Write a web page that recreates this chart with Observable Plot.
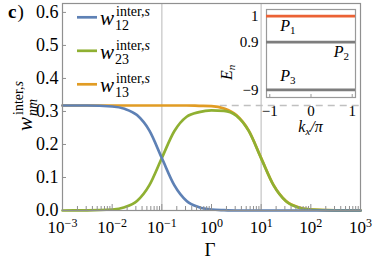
<!DOCTYPE html>
<html>
<head>
<meta charset="utf-8">
<script src="https://cdn.jsdelivr.net/npm/d3@7"></script>
<script src="https://cdn.jsdelivr.net/npm/@observablehq/plot@0.6"></script>
<style>
  html, body { margin: 0; padding: 0; background: white; }
  #wrap { position: relative; width: 374px; height: 274px; overflow: hidden; }
  #wrap svg { position: absolute; font-family: "Liberation Serif", "DejaVu Serif", serif !important; }
  #wrap svg text, #wrap svg tspan { font-family: "Liberation Serif", "DejaVu Serif", serif !important; }
</style>
</head>
<body>
<div id="wrap"></div>
<script>
// ---- data ----
const gamma = [0.001, 0.00316, 0.01, 0.0178, 0.0316, 0.0562, 0.1, 0.178, 0.316, 0.562, 1, 1.78, 3.16, 5.62, 10, 17.8, 31.6, 56.2, 100, 316, 1000];
const w12 = [0.318, 0.318, 0.315, 0.308, 0.289, 0.242, 0.159, 0.077, 0.029, 0.010, 0.003, 0.001, 0, 0, 0, 0, 0, 0, 0, 0, 0];
const w23 = [0, 0.0003, 0.003, 0.010, 0.029, 0.077, 0.159, 0.240, 0.284, 0.298, 0.303, 0.302, 0.287, 0.241, 0.158, 0.076, 0.028, 0.009, 0.003, 0.0003, 0];
const w13 = [0.318, 0.318, 0.318, 0.318, 0.318, 0.318, 0.318, 0.318, 0.318, 0.317, 0.316, 0.309, 0.289, 0.242, 0.159, 0.077, 0.029, 0.010, 0.003, 0.0003, 0];
const seriesNames = ["12", "23", "13"];
const seriesColors = ["#5E81B5", "#8FB032", "#E19C24"];
const xTicks = [0.001, 0.01, 0.1, 1, 10, 100, 1000];
const xTickExp = ["−3", "−2", "−1", "0", "1", "2", "3"];
const yTicks = [0, 0.1, 0.2, 0.3, 0.4, 0.5, 0.6];
const gridX = [0.1, 10];
const dashLevel = [0.318];
const dashStart = 1.5;

// inset
const levels = [1, 0.9, -9];
const levelLabels = ["1", "2", "3"];
const levelColors = ["#EB6235", "#7d7d7d", "#7d7d7d"];
const kTicks = [-1, 0, 1];

const FONT = "'Liberation Serif', 'DejaVu Serif', serif";

// ---- main plot ----
const rows = (vals) => gamma.map((g, i) => ({g, v: vals[i]}));
const minorTicks = [];
for (let k = -3; k < 3; k++) for (let m = 2; m <= 9; m++) minorTicks.push(m * Math.pow(10, k));

const main = Plot.plot({
  width: 374, height: 274,
  marginLeft: 62, marginRight: 14, marginTop: 3, marginBottom: 64,
  x: {type: "log", domain: [1e-3, 1e3]},
  y: {domain: [0, 0.627]},
  style: {fontFamily: FONT, background: "transparent", color: "black", overflow: "visible"},
  marks: [
    Plot.ruleX(gridX, {stroke: "#d0d0d0", strokeWidth: 1.5}),
    Plot.ruleY(dashLevel, {x1: dashStart, x2: 1e3, stroke: "#c0c0c0", strokeWidth: 1.5, strokeDasharray: "7,5"}),
    Plot.line(rows(w13), {x: "g", y: "v", stroke: seriesColors[2], strokeWidth: 2.7, curve: "monotone-x"}),
    Plot.line(rows(w23), {x: "g", y: "v", stroke: seriesColors[1], strokeWidth: 2.7, curve: "monotone-x"}),
    Plot.line(rows(w12), {x: "g", y: "v", stroke: seriesColors[0], strokeWidth: 2.7, curve: "monotone-x"}),
    Plot.ruleX(minorTicks, {insetTop: 203, stroke: "#909090", strokeWidth: 1}),
    Plot.ruleX(xTicks, {insetTop: 201, stroke: "#909090", strokeWidth: 1}),
    Plot.ruleY(yTicks, {insetRight: 294, stroke: "#909090", strokeWidth: 1}),
    Plot.frame({stroke: "#909090", strokeWidth: 1.2}),
    Plot.axisX({ticks: xTicks, tickSize: 0, tickPadding: 10, fontSize: 17, tickFormat: () => "10", label: null}),
    Plot.axisY({ticks: yTicks, tickSize: 0, tickPadding: 4, fontSize: 18, tickFormat: d3.format(".1f"), label: null})
  ]
});
main.style.left = "0px"; main.style.top = "0px";
main.setAttribute("font-family", FONT);
document.getElementById("wrap").appendChild(main);

const svg = d3.select(main);
// superscript exponents on x tick labels
svg.selectAll('g[aria-label="x-axis tick label"] text').each(function(d, i) {
  const t = d3.select(this);
  t.text("");
  t.append("tspan").text("10");
  t.append("tspan").attr("dy", "-0.5em").attr("font-size", 12).text(xTickExp[i]);
});

// legend
seriesNames.forEach((s, i) => {
  const y0 = 17.3 + i * 33.5;
  svg.append("line").attr("x1", 77).attr("x2", 97).attr("y1", y0).attr("y2", y0)
    .attr("stroke", seriesColors[i]).attr("stroke-width", 2.7);
  const base = y0 + 7.7;
  const t = svg.append("text").attr("font-family", FONT).attr("text-anchor", "start");
  t.append("tspan").attr("x", 100).attr("y", base).attr("font-size", 21).attr("font-style", "italic").text("w");
  const sp = t.append("tspan").attr("x", 116).attr("y", base - 9).attr("font-size", 14);
  sp.append("tspan").text("inter,");
  sp.append("tspan").attr("font-style", "italic").text("s");
  t.append("tspan").attr("x", 115).attr("y", base + 5).attr("font-size", 14).text(s);
});

// y label
{
  const g = svg.append("g").attr("transform", "translate(32,131) rotate(-90)");
  const t = g.append("text").attr("font-family", FONT).attr("text-anchor", "start");
  t.append("tspan").attr("x", 0).attr("y", 0).attr("font-size", 21).attr("font-style", "italic").text("w");
  const sp = t.append("tspan").attr("x", 16).attr("y", -9).attr("font-size", 14);
  sp.append("tspan").text("inter,");
  sp.append("tspan").attr("font-style", "italic").text("s");
  t.append("tspan").attr("x", 15).attr("y", 5).attr("font-size", 14).attr("font-style", "italic").text("nm");
}
// x label
svg.append("text").attr("x", 210).attr("y", 256).attr("text-anchor", "middle")
  .attr("font-family", FONT).attr("font-size", 19).text("Γ");
// panel label
{
  const t = svg.append("text").attr("x", 8).attr("y", 18).attr("text-anchor", "start")
    .attr("font-family", FONT).attr("font-size", 19);
  t.append("tspan").attr("font-weight", "bold").text("c");
  t.append("tspan").attr("dx", 1).text(")");
}

// ---- inset ----
const levelRows = levels.map((v, i) => ({v, c: levelColors[i]}));
const inset = Plot.plot({
  width: 174, height: 140,
  marginLeft: 66, marginRight: 19, marginTop: 9, marginBottom: 43,
  x: {domain: [-1.08, 1.08]},
  y: {type: "linear", domain: [-9.9, -9, 0.9, 1, 1.07], range: [97, 89.3, 41.7, 15.7, 9]},
  color: {type: "identity"},
  style: {fontFamily: FONT, background: "transparent", color: "black", overflow: "visible"},
  marks: [
    Plot.frame({fill: "white", stroke: "#999", strokeWidth: 1.2}),
    Plot.ruleX(kTicks, {insetTop: 85, stroke: "#999", strokeWidth: 1}),
    Plot.ruleY(levelRows, {y: "v", stroke: "c", strokeWidth: 2.7}),
    Plot.axisX({ticks: kTicks, tickSize: 0, tickPadding: 8, fontSize: 15, label: null,
      tickFormat: d => d < 0 ? "−" + Math.abs(d) : String(d)}),
    Plot.axisY({ticks: levels, tickSize: 0, tickPadding: 8, fontSize: 15, label: null,
      tickFormat: d => d < 0 ? "−" + Math.abs(d) : String(d)})
  ]
});
inset.style.left = "200px"; inset.style.top = "0px";
inset.setAttribute("font-family", FONT);
document.getElementById("wrap").appendChild(inset);
const isvg = d3.select(inset);
const sx = inset.scale("x"), sy = inset.scale("y");
// P labels
const pLabelX = [-0.55, 0.75, -0.55];
levels.forEach((v, i) => {
  const t = isvg.append("text").attr("font-family", FONT).attr("text-anchor", "middle")
    .attr("x", sx.apply(pLabelX[i])).attr("y", sy.apply(v) + (i === 2 ? -8 : 15));
  t.append("tspan").attr("font-size", 16).attr("font-style", "italic").text("P");
  t.append("tspan").attr("font-size", 11).attr("dy", 3).text(levelLabels[i]);
});
// E_n label
{
  const g = isvg.append("g").attr("transform", "translate(32,80) rotate(-90)");
  const t = g.append("text").attr("font-family", FONT).attr("text-anchor", "start");
  t.append("tspan").attr("font-size", 16).attr("font-style", "italic").text("E");
  t.append("tspan").attr("font-size", 11).attr("font-style", "italic").attr("dy", 3).text("n");
}
// k_x / pi label
{
  const t = isvg.append("text").attr("font-family", FONT).attr("text-anchor", "middle")
    .attr("x", sx.apply(0)).attr("y", 132);
  t.append("tspan").attr("font-size", 16).attr("font-style", "italic").text("k");
  t.append("tspan").attr("font-size", 11).attr("font-style", "italic").attr("dy", 3).text("x");
  t.append("tspan").attr("font-size", 16).attr("font-style", "italic").attr("dy", -3).text("/π");
}
</script>
</body>
</html>
